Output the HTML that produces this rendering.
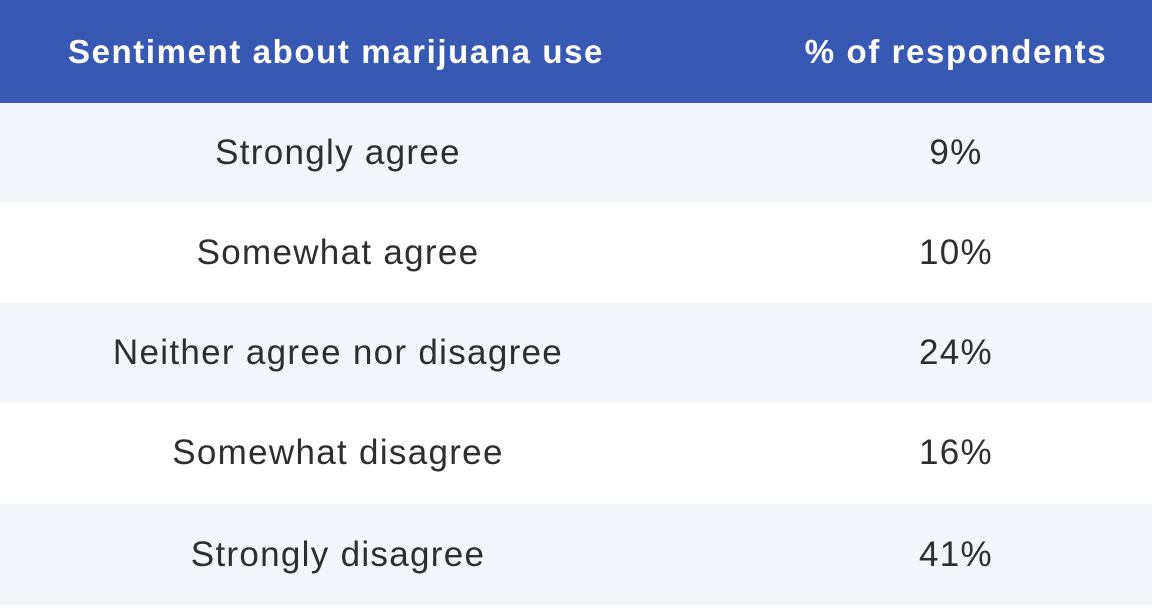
<!DOCTYPE html>
<html><head><style>
body{margin:0;width:1152px;height:610px;background:#fff;font-family:"Liberation Sans",sans-serif;overflow:hidden}
.r{position:absolute;left:0;width:1152px;height:100px}
.c{position:absolute;top:0;height:100%;display:flex;align-items:center;justify-content:center;white-space:nowrap}
.a{left:38px;width:600px}.b{left:806px;width:300px}
.h{top:0;height:103px;background:#3758b3;color:#fff;font-weight:bold;font-size:33px;letter-spacing:1.6px}
.d{color:#2e2e2e;font-size:35px;letter-spacing:1.3px}
.g{background:#f3f5fa}
</style></head><body>
<div class="r h"><div class="c a" style="left:36px;width:600px">Sentiment about marijuana use</div><div class="c b">% of respondents</div></div>
<div class="r d g" style="top:103px"><div class="c a">Strongly agree</div><div class="c b">9%</div></div>
<div class="r d" style="top:203px"><div class="c a">Somewhat agree</div><div class="c b">10%</div></div>
<div class="r d g" style="top:303px"><div class="c a">Neither agree nor disagree</div><div class="c b">24%</div></div>
<div class="r d" style="top:403px"><div class="c a">Somewhat disagree</div><div class="c b">16%</div></div>
<div class="r d g" style="top:504px;height:101px"><div class="c a">Strongly disagree</div><div class="c b">41%</div></div>
</body></html>
